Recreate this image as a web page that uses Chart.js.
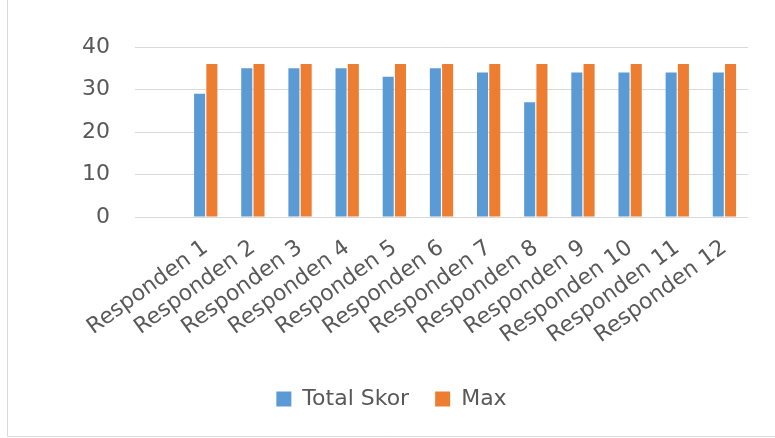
<!DOCTYPE html>
<html>
<head>
<meta charset="utf-8">
<script src="https://cdn.jsdelivr.net/npm/chart.js@4/dist/chart.umd.min.js"></script>
<style>
  html, body { margin: 0; padding: 0; background: #ffffff; }
  #wrap { width: 775px; height: 438px; position: relative; }
</style>
</head>
<body>
<div id="wrap"><canvas id="c" width="775" height="438"></canvas></div>
<script>
// Categories (first column of the sheet is an empty header slot)
const categories = ["", "Responden 1", "Responden 2", "Responden 3", "Responden 4",
  "Responden 5", "Responden 6", "Responden 7", "Responden 8", "Responden 9",
  "Responden 10", "Responden 11", "Responden 12"];
const totalSkor = [null, 29, 35, 35, 35, 33, 35, 34, 27, 34, 34, 34, 34];
const maxSkor = [null, 36, 36, 36, 36, 36, 36, 36, 36, 36, 36, 36, 36];
const yTicks = [0, 10, 20, 30, 40];

const FONT = "'DejaVu Sans', sans-serif";
const TEXT = "#595959";
const PLOT_BOTTOM = 217;   // pixel row of the zero line
const PAD_BOTTOM = 18;

// thin frame around the chart object (left and bottom edges)
const framePlugin = {
  id: 'frame',
  beforeDraw(chart) {
    const ctx = chart.ctx;
    ctx.save();
    ctx.strokeStyle = '#d9d9d9';
    ctx.lineWidth = 1;
    ctx.beginPath();
    ctx.moveTo(7.5, 0);
    ctx.lineTo(7.5, 436.5);
    ctx.lineTo(chart.width, 436.5);
    ctx.stroke();
    ctx.restore();
  }
};

new Chart(document.getElementById('c'), {
  type: 'bar',
  data: {
    labels: categories,
    datasets: [
      { label: 'Total Skor', data: totalSkor, backgroundColor: '#5B9BD5', borderWidth: 0 },
      { label: 'Max', data: maxSkor, backgroundColor: '#ED7D31', borderWidth: 0 }
    ]
  },
  options: {
    responsive: false,
    animation: false,
    devicePixelRatio: 1,
    categoryPercentage: 0.52,
    barPercentage: 0.9,
    layout: { padding: { left: 35, right: 27, top: 47, bottom: PAD_BOTTOM } },
    plugins: {
      title: { display: false },
      tooltip: { enabled: false },
      legend: {
        position: 'bottom',
        labels: {
          color: TEXT,
          font: { family: FONT, size: 22 },
          boxWidth: 15,
          boxHeight: 15,
          padding: 26
        }
      }
    },
    scales: {
      x: {
        grid: { display: false },
        border: { display: false },
        afterFit(axis) {
          const legendH = axis.chart.legend ? axis.chart.legend.height : 0;
          axis.height = axis.chart.height - PAD_BOTTOM - legendH - PLOT_BOTTOM;
        },
        ticks: {
          color: TEXT,
          font: { family: FONT, size: 22 },
          minRotation: 36,
          maxRotation: 36,
          autoSkip: false,
          padding: 10
        }
      },
      y: {
        min: 0,
        max: 40,
        afterBuildTicks(axis) { axis.ticks = yTicks.map(v => ({ value: v })); },
        afterFit(axis) { axis.width = 100; },
        grid: { color: '#d9d9d9', drawTicks: false },
        border: { display: false },
        ticks: {
          color: TEXT,
          font: { family: FONT, size: 22 },
          padding: 25
        }
      }
    }
  },
  plugins: [framePlugin]
});
</script>
</body>
</html>
